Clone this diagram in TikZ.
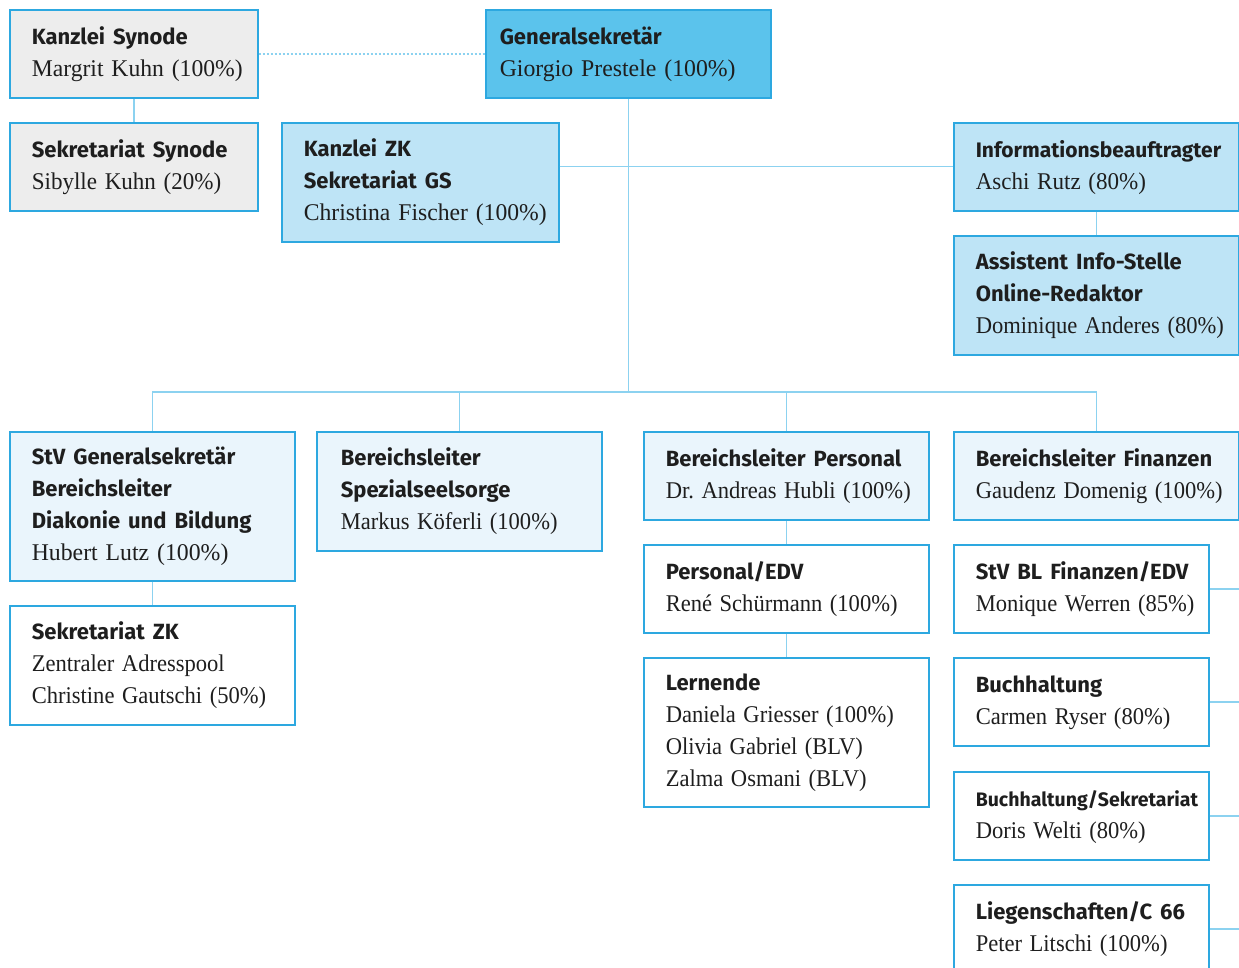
\documentclass[tikz,border=0pt]{standalone}
\usepackage{fontspec}
\usepackage{graphicx}
\setmainfont{Liberation Serif}
\newfontfamily\hdfont{Fira Sans}
\definecolor{bordblue}{RGB}{45,168,224}
\definecolor{linkblue}{RGB}{140,210,240}
\definecolor{fillA}{RGB}{91,195,236}
\definecolor{fillB}{RGB}{190,228,246}
\definecolor{fillC}{RGB}{234,245,252}
\definecolor{fillG}{RGB}{237,237,237}
\definecolor{txt}{RGB}{30,30,30}
\newcommand\hl[2][22]{\mbox{\hdfont\bfseries\fontsize{#1}{32}\selectfont #2}\strut}
\newcommand\nl[2][0.94]{\scalebox{#1}[1]{#2}\strut}
\begin{document}
\frenchspacing
\begin{tikzpicture}[x=1pt,y=-1pt,
  orgbox/.style={draw=bordblue, line width=1.6pt, rectangle, anchor=north west,
    inner xsep=22pt, inner ysep=12pt, align=left, text=txt,
    font=\fontsize{24}{32}\selectfont\frenchspacing},
  threel/.style={inner ysep=11.5pt},
  fourl/.style={inner ysep=10.5pt},
  link/.style={draw=linkblue, line width=1.4pt},
  dotlink/.style={draw=linkblue, line width=2pt, dotted}]
\useasboundingbox (0,0) rectangle (1239,968);
% top row
\node[orgbox, fill=fillG, text width=204pt] (ks) at (9,9)
  {\hl{Kanzlei Synode}\\\nl[0.985]{Margrit Kuhn (100\%)}};
\node[orgbox, fill=fillA, text width=257pt, inner xsep=14pt] (gs) at (485,9)
  {\hl{Generalsekretär}\\\nl[0.99]{Giorgio Prestele (100\%)}};
\node[orgbox, fill=fillG, text width=204pt] (ss) at (9,122)
  {\hl{Sekretariat Synode}\\\nl[0.96]{Sibylle Kuhn (20\%)}};
\node[orgbox, fill=fillB, text width=233pt, threel] (kzk) at (281,122)
  {\hl{Kanzlei ZK}\\\hl{Sekretariat GS}\\\nl[0.985]{Christina Fischer (100\%)}};
\node[orgbox, fill=fillB, text width=241pt] (info) at (953,122)
  {\hl[21]{Informationsbeauftragter}\\\nl[0.96]{Aschi Rutz (80\%)}};
\node[orgbox, fill=fillB, text width=241pt, threel] (ass) at (953,235)
  {\hl{Assistent Info-Stelle}\\\hl{Online-Redaktor}\\\nl{Dominique Anderes (80\%)}};
% second level
\node[orgbox, fill=fillC, text width=241pt, fourl] (stv) at (9,431)
  {\hl{StV Generalsekretär}\\\hl{Bereichsleiter}\\\hl{Diakonie und Bildung}\\\nl[0.99]{Hubert Lutz (100\%)}};
\node[orgbox, fill=fillC, text width=237pt, inner xsep=24pt, threel] (spz) at (316,431)
  {\hl{Bereichsleiter}\\\hl{Spezialseelsorge}\\\nl{Markus Köferli (100\%)}};
\node[orgbox, fill=fillC, text width=241pt] (per) at (643,431)
  {\hl{Bereichsleiter Personal}\\\nl{Dr. Andreas Hubli (100\%)}};
\node[orgbox, fill=fillC, text width=241pt] (fin) at (953,431)
  {\hl{Bereichsleiter Finanzen}\\\nl{Gaudenz Domenig (100\%)}};
% lower boxes
\node[orgbox, fill=white, text width=241pt, threel] (szk) at (9,605)
  {\hl{Sekretariat ZK}\\\nl{Zentraler Adresspool}\\\nl{Christine Gautschi (50\%)}};
\node[orgbox, fill=white, text width=241pt] (pedv) at (643,544)
  {\hl{Personal/EDV}\\\nl{René Schürmann (100\%)}};
\node[orgbox, fill=white, text width=241pt, fourl] (lern) at (643,657)
  {\hl{Lernende}\\\nl{Daniela Griesser (100\%)}\\\nl{Olivia Gabriel (BLV)}\\\nl{Zalma Osmani (BLV)}};
\node[orgbox, fill=white, text width=211pt] (stvbl) at (953,544)
  {\hl{StV BL Finanzen/EDV}\\\nl{Monique Werren (85\%)}};
\node[orgbox, fill=white, text width=211pt] (buch) at (953,657)
  {\hl{Buchhaltung}\\\nl{Carmen Ryser (80\%)}};
\node[orgbox, fill=white, text width=211pt] (bsek) at (953,771)
  {\hl[19.5]{Buchhaltung/Sekretariat}\\\nl{Doris Welti (80\%)}};
\node[orgbox, fill=white, text width=211pt] (lieg) at (953,884)
  {\hl{Liegenschaften/C 66}\\\nl{Peter Litschi (100\%)}};
\coordinate (bus) at (0,392);
% connectors
\draw[dotlink] (ks.east) -- (gs.west);
\draw[link] (ks.south) -- (ss.north);
\draw[link] (gs.south) -- (gs.south |- bus);
\draw[link] (kzk.east |- info.west) -- (info.west);
\draw[link] (info.south) -- (ass.north);
\draw[link] (stv.north) -- (stv.north |- bus) -- (fin.north |- bus) -- (fin.north);
\draw[link] (spz.north) -- (spz.north |- bus);
\draw[link] (per.north) -- (per.north |- bus);
\draw[link] (stv.south) -- (szk.north);
\draw[link] (per.south) -- (pedv.north);
\draw[link] (pedv.south) -- (lern.north);
\draw[link] (fin.south east) -- (fin.south east |- lieg.east) -- (lieg.east);
\draw[link] (stvbl.east) -- (stvbl.east -| fin.east);
\draw[link] (buch.east) -- (buch.east -| fin.east);
\draw[link] (bsek.east) -- (bsek.east -| fin.east);
\end{tikzpicture}
\end{document}
